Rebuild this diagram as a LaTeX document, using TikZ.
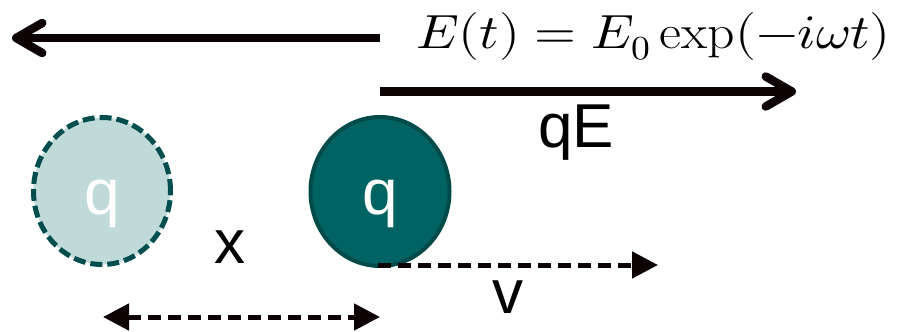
\documentclass[tikz,border=0pt]{standalone}
\usepackage{fontspec}
\usepackage{unicode-math}
\setmathfont{Latin Modern Math}
\setsansfont{Liberation Sans}
\usetikzlibrary{arrows.meta,shapes.geometric}
\definecolor{ink}{HTML}{0D0305}
\definecolor{ghostfill}{HTML}{C0DADA}
\definecolor{tealedge}{HTML}{004D4D}
\definecolor{tealfill}{HTML}{006363}
\definecolor{tealrim}{HTML}{004A4A}
\tikzset{
  bigarrow/.style={draw=ink, line width=8.5pt, -{Straight Barb[length=26pt,width=30pt,round]}},
  dasharrow/.style={draw=ink, line width=5pt, dash pattern=on 13pt off 7pt, -{Triangle[length=26pt,width=26pt]}},
  ghost/.style={ellipse, draw=tealedge, fill=ghostfill, line width=5pt, dash pattern=on 12pt off 5pt, minimum width=137pt, minimum height=147pt, inner sep=0pt},
  charge/.style={ellipse, draw=tealrim, fill=tealfill, line width=4pt, minimum width=139pt, minimum height=149pt, inner sep=0pt},
  qlabel/.style={text=white, font=\sffamily\fontsize{64}{70}\selectfont, anchor=base, inner sep=0pt},
  lbl/.style={text=black, font=\sffamily\fontsize{62}{70}\selectfont, anchor=base, inner sep=0pt}
}
\begin{document}
\begin{tikzpicture}[x=1pt,y=-1pt]
\useasboundingbox (0,0) rectangle (897,332);
% charges
\node[ghost] (lc) at (102,191) {};
\node[charge] (rc) at (380,191.5) {};
\node[qlabel] (lq) at (102,214) {q};
\node[qlabel] (rq) at (380,214) {q};
% field arrows
\coordinate (fa) at (380,38);
\coordinate (fb) at (12,38);
\draw[bigarrow] (fa) -- (fb);
\coordinate (ga) at (380,91.5);
\coordinate (gb) at (796,91.5);
\draw[bigarrow] (ga) -- (gb);
\node[anchor=base west, inner sep=0pt, font=\fontsize{48}{54}\selectfont] (eq) at (416,48) {\scalebox{1.12}[1]{$E(t) = E_0\exp(-i\omega t)$}};
\node[lbl] (qE) at (576,147) {qE};
% displacement
\coordinate (da) at (103,317);
\coordinate (db) at (380,317);
\draw[dasharrow, {Triangle[length=26pt,width=26pt]}-{Triangle[length=26pt,width=26pt]}] (da) -- (db);
\node[lbl] (xl) at (230,263) {x};
% velocity
\coordinate (va) at (378,265);
\coordinate (vb) at (658,265);
\draw[dasharrow] (va) -- (vb);
\node[lbl] (vl) at (508,313) {v};
\end{tikzpicture}
\end{document}
